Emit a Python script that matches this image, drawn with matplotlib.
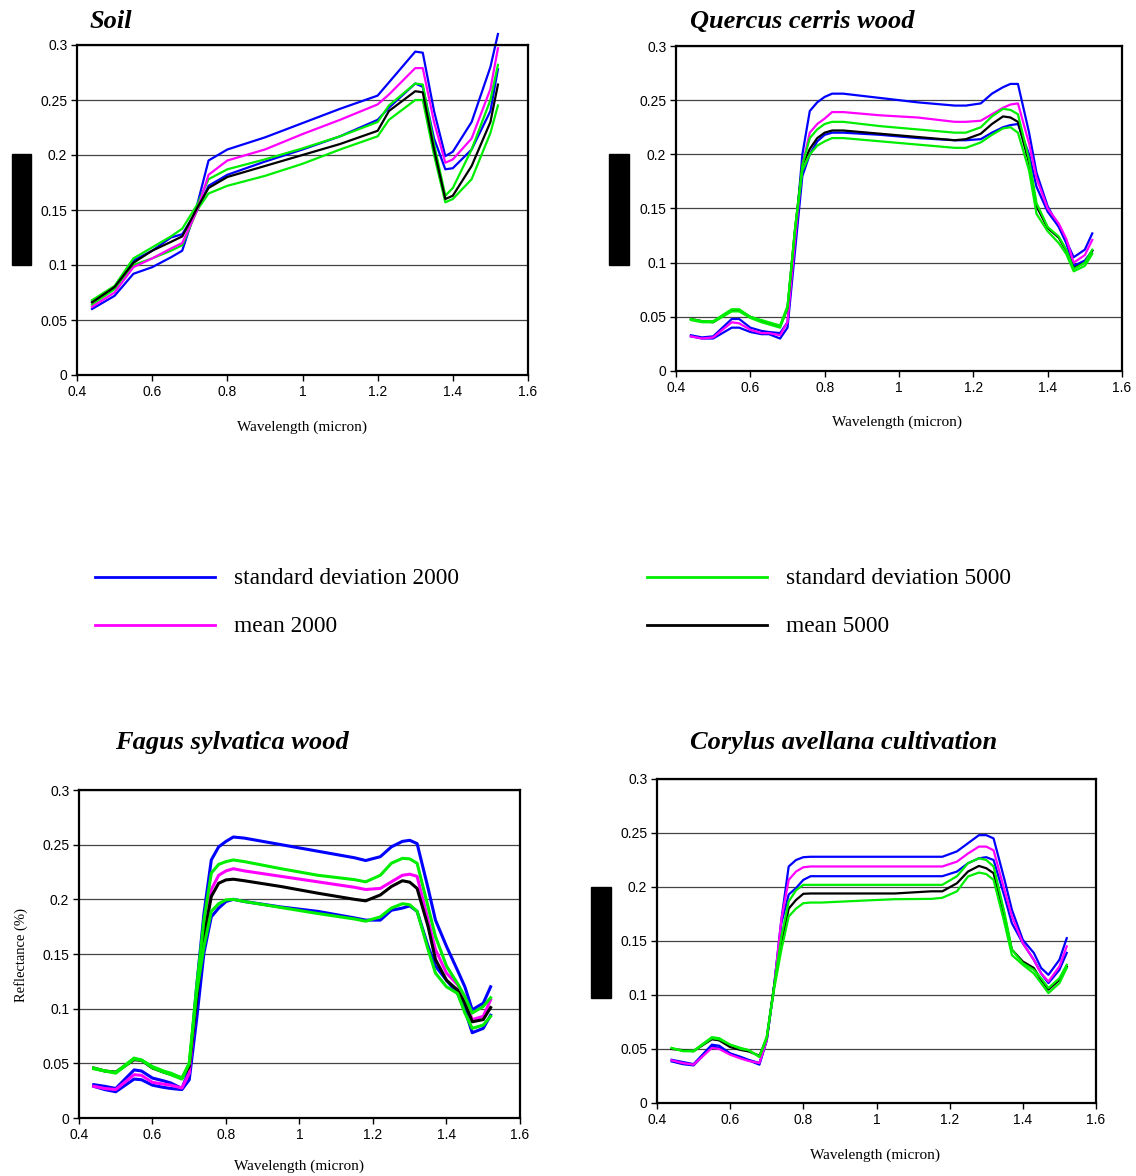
import matplotlib
matplotlib.use("Agg")
import matplotlib.pyplot as plt
from matplotlib.lines import Line2D
from matplotlib.patches import Rectangle

## data (reflectance)
soil_wl = [0.44, 0.50, 0.55, 0.60, 0.65, 0.68, 0.72, 0.75, 0.80, 0.90, 1.00,
           1.10, 1.20, 1.23, 1.30, 1.32, 1.35, 1.38, 1.40, 1.45, 1.50, 1.52]
soil_sd2000_hi = [0.060, 0.072, 0.092, 0.098, 0.107, 0.113, 0.155, 0.195, 0.205, 0.216, 0.229,
                  0.242, 0.254, 0.266, 0.294, 0.293, 0.240, 0.199, 0.203, 0.230, 0.280, 0.310]
soil_sd2000_lo = [0.067, 0.079, 0.104, 0.113, 0.125, 0.128, 0.150, 0.172, 0.182, 0.194, 0.205,
                  0.217, 0.232, 0.243, 0.265, 0.262, 0.215, 0.187, 0.188, 0.205, 0.240, 0.278]
soil_mean2000 = [0.062, 0.075, 0.098, 0.106, 0.115, 0.120, 0.150, 0.182, 0.195, 0.205, 0.219,
                 0.232, 0.246, 0.255, 0.279, 0.279, 0.230, 0.193, 0.196, 0.215, 0.260, 0.297]
soil_sd5000_hi = [0.068, 0.081, 0.106, 0.116, 0.126, 0.133, 0.155, 0.178, 0.187, 0.196, 0.206,
                  0.217, 0.230, 0.245, 0.265, 0.264, 0.210, 0.163, 0.170, 0.205, 0.250, 0.282]
soil_sd5000_lo = [0.064, 0.078, 0.100, 0.106, 0.113, 0.118, 0.150, 0.165, 0.172, 0.181, 0.192,
                  0.205, 0.217, 0.232, 0.250, 0.250, 0.200, 0.157, 0.160, 0.178, 0.220, 0.245]
soil_mean5000 = [0.066, 0.080, 0.102, 0.113, 0.121, 0.126, 0.152, 0.170, 0.180, 0.190, 0.200,
                 0.210, 0.222, 0.240, 0.258, 0.257, 0.205, 0.160, 0.163, 0.190, 0.230, 0.264]

veg_wl = [0.44, 0.47, 0.50, 0.55, 0.57, 0.60, 0.63, 0.65, 0.68, 0.70, 0.72, 0.74,
          0.76, 0.78, 0.80, 0.82, 0.85, 0.95, 1.05, 1.15, 1.18, 1.22, 1.25, 1.28,
          1.30, 1.32, 1.35, 1.37, 1.40, 1.43, 1.45, 1.47, 1.50, 1.52]

quercus_sd2000_hi = [0.033, 0.031, 0.032, 0.048, 0.048, 0.040, 0.037, 0.036, 0.035, 0.045, 0.120, 0.200,
                     0.240, 0.248, 0.253, 0.256, 0.256, 0.252, 0.248, 0.245, 0.245, 0.247, 0.256, 0.262,
                     0.265, 0.265, 0.220, 0.183, 0.152, 0.133, 0.120, 0.105, 0.112, 0.127]
quercus_sd2000_lo = [0.032, 0.030, 0.030, 0.040, 0.040, 0.036, 0.034, 0.034, 0.030, 0.040, 0.110, 0.180,
                     0.200, 0.212, 0.218, 0.220, 0.220, 0.218, 0.215, 0.213, 0.213, 0.214, 0.220, 0.225,
                     0.227, 0.228, 0.200, 0.170, 0.147, 0.133, 0.118, 0.097, 0.102, 0.111]
quercus_mean2000 = [0.032, 0.030, 0.031, 0.045, 0.044, 0.038, 0.035, 0.035, 0.033, 0.045, 0.120, 0.190,
                    0.220, 0.228, 0.233, 0.239, 0.239, 0.236, 0.234, 0.230, 0.230, 0.231, 0.237, 0.243,
                    0.246, 0.247, 0.210, 0.178, 0.150, 0.136, 0.122, 0.100, 0.107, 0.121]
quercus_sd5000_hi = [0.048, 0.046, 0.046, 0.057, 0.057, 0.050, 0.047, 0.045, 0.042, 0.060, 0.130, 0.190,
                     0.215, 0.223, 0.228, 0.230, 0.230, 0.226, 0.223, 0.220, 0.220, 0.225, 0.235, 0.242,
                     0.241, 0.237, 0.195, 0.155, 0.133, 0.124, 0.112, 0.094, 0.100, 0.112]
quercus_sd5000_lo = [0.047, 0.045, 0.045, 0.055, 0.055, 0.049, 0.045, 0.043, 0.040, 0.058, 0.130, 0.185,
                     0.200, 0.208, 0.212, 0.215, 0.215, 0.212, 0.209, 0.206, 0.206, 0.211, 0.218, 0.224,
                     0.225, 0.220, 0.185, 0.145, 0.129, 0.118, 0.108, 0.092, 0.097, 0.108]
quercus_mean5000 = [0.048, 0.046, 0.045, 0.056, 0.056, 0.050, 0.046, 0.044, 0.041, 0.058, 0.130, 0.190,
                    0.205, 0.215, 0.220, 0.222, 0.222, 0.219, 0.216, 0.213, 0.214, 0.219, 0.228, 0.235,
                    0.234, 0.230, 0.192, 0.152, 0.132, 0.123, 0.111, 0.095, 0.100, 0.111]

fagus_sd2000_hi = [0.0305, 0.029, 0.027, 0.044, 0.043, 0.0365, 0.034, 0.032, 0.027, 0.044, 0.120, 0.187,
                   0.236, 0.248, 0.253, 0.257, 0.256, 0.250, 0.244, 0.238, 0.2355, 0.239, 0.248, 0.253,
                   0.254, 0.251, 0.210, 0.181, 0.157, 0.135, 0.120, 0.099, 0.105, 0.120]
fagus_sd2000_lo = [0.029, 0.026, 0.024, 0.0356, 0.035, 0.030, 0.028, 0.027, 0.026, 0.035, 0.090, 0.151,
                   0.184, 0.192, 0.198, 0.200, 0.198, 0.193, 0.189, 0.183, 0.181, 0.181, 0.190, 0.192,
                   0.194, 0.189, 0.157, 0.139, 0.126, 0.114, 0.099, 0.078, 0.082, 0.094]
fagus_mean2000 = [0.029, 0.027, 0.026, 0.0396, 0.039, 0.0326, 0.031, 0.030, 0.0274, 0.041, 0.111, 0.169,
                  0.209, 0.222, 0.226, 0.228, 0.226, 0.221, 0.216, 0.211, 0.209, 0.210, 0.216, 0.222,
                  0.223, 0.221, 0.181, 0.154, 0.1325, 0.122, 0.108, 0.090, 0.093, 0.108]
fagus_sd5000_hi = [0.0457, 0.043, 0.0417, 0.0548, 0.053, 0.047, 0.043, 0.041, 0.0366, 0.050, 0.120, 0.181,
                   0.224, 0.232, 0.2345, 0.236, 0.2345, 0.228, 0.222, 0.218, 0.216, 0.222, 0.233, 0.2375,
                   0.237, 0.233, 0.193, 0.166, 0.139, 0.123, 0.111, 0.096, 0.102, 0.110]
fagus_sd5000_lo = [0.045, 0.043, 0.041, 0.054, 0.053, 0.046, 0.042, 0.0396, 0.0356, 0.050, 0.114, 0.157,
                   0.189, 0.196, 0.1995, 0.200, 0.198, 0.1925, 0.187, 0.182, 0.180, 0.184, 0.192, 0.196,
                   0.195, 0.189, 0.154, 0.1325, 0.120, 0.114, 0.096, 0.082, 0.085, 0.093]
fagus_mean5000 = [0.0457, 0.043, 0.042, 0.0533, 0.0527, 0.0457, 0.042, 0.040, 0.0366, 0.047, 0.108, 0.166,
                  0.2026, 0.2147, 0.2178, 0.2184, 0.217, 0.2117, 0.2056, 0.200, 0.1986, 0.204, 0.2117, 0.217,
                  0.2157, 0.210, 0.175, 0.145, 0.126, 0.117, 0.105, 0.088, 0.090, 0.101]

corylus_sd2000_hi = [0.040, 0.038, 0.036, 0.054, 0.053, 0.046, 0.0426, 0.040, 0.037, 0.0586, 0.108, 0.170,
                     0.219, 0.225, 0.2276, 0.228, 0.228, 0.228, 0.228, 0.228, 0.228, 0.233, 0.2405, 0.248,
                     0.248, 0.245, 0.2066, 0.179, 0.151, 0.139, 0.125, 0.1187, 0.1326, 0.1526]
corylus_sd2000_lo = [0.0385, 0.036, 0.0348, 0.0524, 0.051, 0.0453, 0.042, 0.0395, 0.0355, 0.058, 0.108, 0.1665,
                     0.193, 0.199, 0.2066, 0.210, 0.210, 0.210, 0.210, 0.210, 0.210, 0.2143, 0.222, 0.2266,
                     0.2276, 0.225, 0.191, 0.1665, 0.148, 0.1326, 0.120, 0.111, 0.1233, 0.139]
corylus_mean2000 = [0.0395, 0.037, 0.0355, 0.051, 0.050, 0.0447, 0.041, 0.039, 0.037, 0.058, 0.108, 0.170,
                    0.2066, 0.2143, 0.2183, 0.219, 0.219, 0.219, 0.219, 0.219, 0.219, 0.2235, 0.231, 0.2374,
                    0.2374, 0.234, 0.197, 0.173, 0.148, 0.1326, 0.120, 0.1125, 0.1264, 0.145]
corylus_sd5000_hi = [0.0509, 0.0484, 0.0484, 0.061, 0.060, 0.054, 0.0509, 0.049, 0.043, 0.0617, 0.108, 0.154,
                     0.1866, 0.197, 0.202, 0.202, 0.202, 0.202, 0.202, 0.202, 0.202, 0.210, 0.222, 0.2266,
                     0.225, 0.219, 0.1758, 0.142, 0.1295, 0.1233, 0.1156, 0.1064, 0.1156, 0.128]
corylus_sd5000_lo = [0.0509, 0.048, 0.0478, 0.060, 0.059, 0.054, 0.050, 0.049, 0.0426, 0.060, 0.105, 0.142,
                     0.1727, 0.180, 0.185, 0.1856, 0.1856, 0.1872, 0.1887, 0.189, 0.190, 0.196, 0.2097, 0.2134,
                     0.212, 0.2066, 0.1665, 0.137, 0.128, 0.120, 0.111, 0.1018, 0.111, 0.125]
corylus_mean5000 = [0.050, 0.049, 0.048, 0.059, 0.058, 0.0518, 0.049, 0.0478, 0.0438, 0.060, 0.108, 0.148,
                    0.180, 0.188, 0.1937, 0.194, 0.194, 0.194, 0.194, 0.196, 0.196, 0.2035, 0.2143, 0.2195,
                    0.2174, 0.2128, 0.1727, 0.142, 0.131, 0.125, 0.114, 0.105, 0.114, 0.1264]

legend_labels = ["standard deviation 2000", "mean 2000", "standard deviation 5000", "mean 5000"]
x_ticks = [0.4, 0.6, 0.8, 1.0, 1.2, 1.4, 1.6]
x_ticklabels = ["0.4", "0.6", "0.8", "1", "1.2", "1.4", "1.6"]
y_ticks = [0, 0.05, 0.1, 0.15, 0.2, 0.25, 0.3]
y_ticklabels = ["0", "0.05", "0.1", "0.15", "0.2", "0.25", "0.3"]

## colors
BLUE, MAGENTA, GREEN, BLACK = "#0000ff", "#ff00ff", "#00ee00", "#000000"

W, H = 1136, 1176
fig = plt.figure(figsize=(W / 100, H / 100), dpi=100)
SERIF = ["Liberation Serif", "DejaVu Serif"]
SANS = ["Liberation Sans", "DejaVu Sans"]


def px_axes(x0, x1, y0, y1):
    # pixel box (left, right, top, bottom) -> axes
    return fig.add_axes([x0 / W, 1 - y1 / H, (x1 - x0) / W, (y1 - y0) / H])


def panel(ax, wl, series, lw):
    for vals, c in series:
        ax.plot(wl, vals, color=c, lw=lw, clip_on=False, solid_joinstyle="round")
    ax.set_xlim(0.4, 1.6)
    ax.set_ylim(0, 0.3)
    ax.set_xticks(x_ticks)
    ax.set_xticklabels(x_ticklabels, family=SANS, fontsize=10)
    ax.set_yticks(y_ticks)
    ax.set_yticklabels(y_ticklabels, family=SANS, fontsize=10)
    ax.tick_params(direction="out", length=4, width=1, pad=3)
    ax.yaxis.grid(True, color="#444444", lw=0.9)
    ax.set_axisbelow(True)
    for s in ax.spines.values():
        s.set_linewidth(1.6)


def ftext(x, y, s, **kw):
    fig.text(x / W, 1 - y / H, s, **kw)


title_kw = dict(family=SERIF, fontsize=19, fontweight="bold", fontstyle="italic", va="center")
xlab_kw = dict(family=SERIF, fontsize=11, ha="center", va="center")

## Soil
ax1 = px_axes(77, 528, 45, 375)
panel(ax1, soil_wl, [(soil_sd2000_hi, BLUE), (soil_sd2000_lo, BLUE), (soil_sd5000_hi, GREEN),
                     (soil_sd5000_lo, GREEN), (soil_mean2000, MAGENTA), (soil_mean5000, BLACK)], 1.6)
ftext(90, 21, "Soil", **title_kw)
ftext(302, 427, "Wavelength (micron)", **xlab_kw)

## Quercus
ax2 = px_axes(676, 1122, 46, 371)
panel(ax2, veg_wl, [(quercus_sd2000_hi, BLUE), (quercus_sd2000_lo, BLUE), (quercus_mean2000, MAGENTA),
                    (quercus_mean5000, BLACK), (quercus_sd5000_hi, GREEN), (quercus_sd5000_lo, GREEN)], 1.6)
ftext(690, 21, "Quercus cerris wood", **title_kw)
ftext(897, 422, "Wavelength (micron)", **xlab_kw)

## Fagus
ax3 = px_axes(79, 520, 790, 1118)
panel(ax3, veg_wl, [(fagus_sd2000_hi, BLUE), (fagus_sd2000_lo, BLUE), (fagus_mean2000, MAGENTA),
                    (fagus_mean5000, BLACK), (fagus_sd5000_hi, GREEN), (fagus_sd5000_lo, GREEN)], 2.2)
ftext(115, 742, "Fagus sylvatica wood", **title_kw)
ftext(299, 1166, "Wavelength (micron)", **xlab_kw)
ftext(21, 955, "Reflectance (%)", family=SERIF, fontsize=10.5, rotation=90, ha="center", va="center")

## Corylus
ax4 = px_axes(657, 1096, 779, 1103)
panel(ax4, veg_wl, [(corylus_sd2000_hi, BLUE), (corylus_sd2000_lo, BLUE), (corylus_mean2000, MAGENTA),
                    (corylus_mean5000, BLACK), (corylus_sd5000_hi, GREEN), (corylus_sd5000_lo, GREEN)], 1.6)
ftext(690, 742, "Corylus avellana cultivation", **title_kw)
ftext(875, 1155, "Wavelength (micron)", **xlab_kw)

## blacked-out y labels
for x0, x1, y0, y1 in [(12, 31, 154, 265), (609, 629, 154, 265), (591, 611, 887, 998)]:
    fig.patches.append(Rectangle((x0 / W, 1 - y1 / H), (x1 - x0) / W, (y1 - y0) / H,
                                 transform=fig.transFigure, color="black", zorder=5))

## legend
leg = [(95, 577, BLUE, legend_labels[0]), (95, 625, MAGENTA, legend_labels[1]),
       (647, 577, GREEN, legend_labels[2]), (647, 625, BLACK, legend_labels[3])]
for x, y, c, lab in leg:
    fig.add_artist(Line2D([x / W, (x + 120) / W], [1 - y / H, 1 - y / H], color=c, lw=2,
                          transform=fig.transFigure))
    ftext(x + 139, y + 7, lab, family=SERIF, fontsize=16.8, va="baseline")

plt.savefig("out.png", dpi=100)
